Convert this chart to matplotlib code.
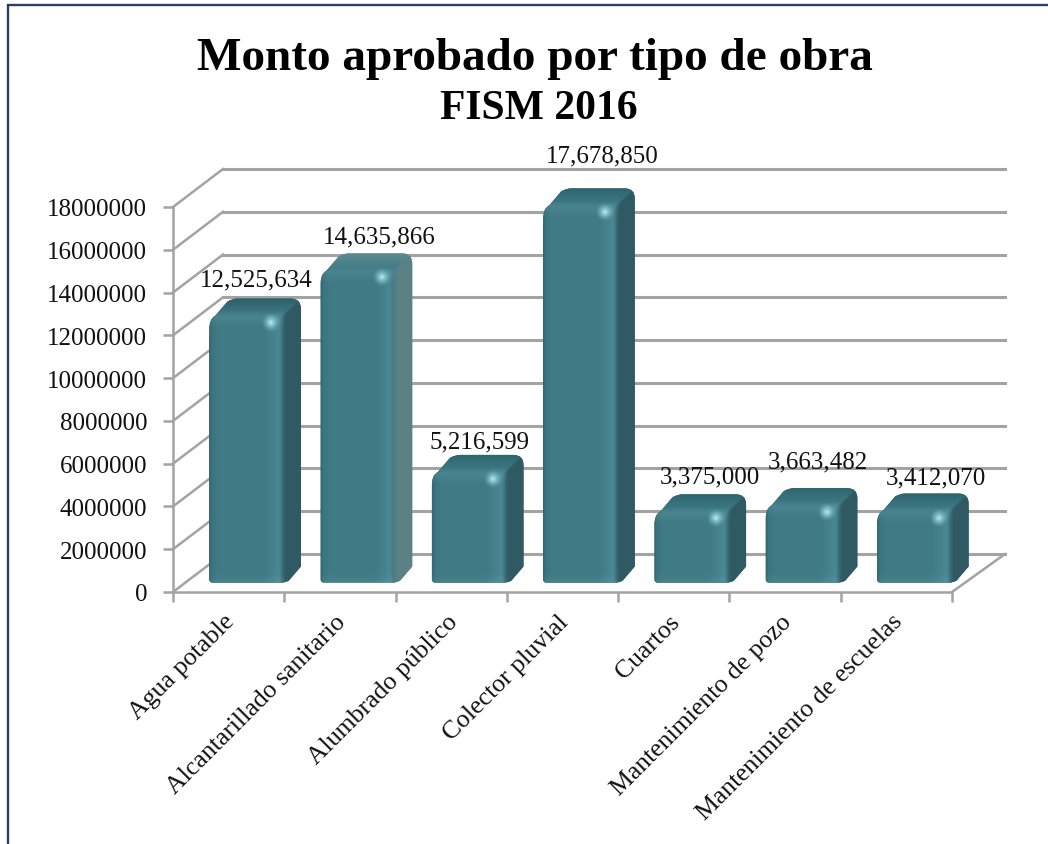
import numpy as np
import matplotlib
matplotlib.use("Agg")
import matplotlib.pyplot as plt
from matplotlib.path import Path
from matplotlib.patches import PathPatch
from matplotlib.transforms import Affine2D
from matplotlib.colors import to_rgb

categories = ["Agua potable", "Alcantarillado sanitario", "Alumbrado público",
              "Colector pluvial", "Cuartos", "Mantenimiento de pozo",
              "Mantenimiento de escuelas"]
values = [12525634, 14635866, 5216599, 17678850, 3375000, 3663482, 3412070]
value_labels = ["12,525,634", "14,635,866", "5,216,599", "17,678,850",
                "3,375,000", "3,663,482", "3,412,070"]
y_ticks = list(range(0, 18000001, 2000000))
title = "Monto aprobado por tipo de obra"
subtitle = "FISM 2016"

# label placement relative to each bar's top-centre (pixels)
label_dx = [10, 21, 10, 22, 18, 15, 21.5]
label_dy = [35, 33, 29, 49, 34, 43, 32]
side_cols = ["#2f5a63", "#5c8185", "#2f5a63", "#2f5a63", "#2f5a63", "#2f5a63", "#2f5a63"]
top_cols = ["#2d5f69", "#5f8b92", "#2e666f", "#2e666f", "#2e666f", "#2e666f", "#2e666f"]

W, H = 1048, 845
plt.rcParams["font.family"] = "Liberation Serif"
GRID = "#a3a3a3"
fig = plt.figure(figsize=(W / 100, H / 100), dpi=100, facecolor="white")


def rect(l, t, r, b):
    return [l / W, 1 - b / H, (r - l) / W, (b - t) / H]


ax = fig.add_axes(rect(173, 208, 952, 593))
ax.set_xlim(0, len(categories))
ax.set_ylim(0, 18000000)
ax.patch.set_visible(False)
for s in ("top", "right"):
    ax.spines[s].set_visible(False)
for s in ("left", "bottom"):
    ax.spines[s].set_color(GRID)
    ax.spines[s].set_linewidth(1.8)
ax.set_yticks(y_ticks)
ax.set_yticklabels([str(v) for v in y_ticks], fontsize=18, color="#111111")
ax.set_xticks(range(len(categories) + 1))
ax.set_xticklabels([])
ax.set_xticks(np.arange(len(categories)) + 0.5, minor=True)
ax.set_xticklabels(categories, minor=True, rotation=45, ha="right",
                   rotation_mode="anchor", fontsize=18.5, color="#111111")
ax.tick_params(axis="both", which="major", color=GRID, width=1.8, length=7)
ax.tick_params(axis="y", which="major", pad=11.5)
ax.tick_params(axis="x", which="minor", length=0, pad=13)
for lab in ax.get_xticklabels(minor=True):
    lab.set_transform(lab.get_transform() + Affine2D().translate(-5, 0))

DX_L, DX_R, DY = 50, 53, 38
xmax = len(categories)
for v in y_ticks:
    p0 = ax.transData.transform((0, v))
    p2 = ax.transData.transform((xmax, v))
    ax.plot([p0[0] + DX_L, p2[0] + DX_R], [p0[1] + DY, p2[1] + DY], color=GRID,
            lw=2.2, transform=None, clip_on=False, zorder=1)
    ax.plot([p0[0], p0[0] + DX_L], [p0[1], p0[1] + DY], color=GRID, lw=1.8,
            transform=None, clip_on=False, zorder=1)
p0 = ax.transData.transform((xmax, 0))
ax.plot([p0[0], p0[0] + DX_R], [p0[1], p0[1] + DY], color=GRID, lw=1.8,
        transform=None, clip_on=False, zorder=1)

# overlay in pixel coordinates for the shaded 3D bodies
ov = fig.add_axes([0, 0, 1, 1], zorder=5)
ov.set_xlim(0, W)
ov.set_ylim(H, 0)
ov.axis("off")
ov.patch.set_visible(False)


def to_ov(x, y):
    return ov.transData.inverted().transform(ax.transData.transform((x, y)))


# frame: top edge runs off to the right, left edge runs off the bottom
ov.plot([W, 8, 8], [6, 6, H], color="#2c3d6b", lw=1.7,
        solid_joinstyle="miter", clip_on=False)


def smooth(a, b, x):
    t = np.clip((x - a) / (b - a), 0, 1)
    return t * t * (3 - 2 * t)


OFF_X, OFF_Y = 18, 9.5      # bar front plane relative to the axis plane
BW = 0.67
BD_X, BD_Y = 17, 16
bars = ax.bar(np.arange(len(categories)) + 0.5, values, BW, color="#3f7a85",
              linewidth=0, zorder=2)

hc = np.array([to_rgb(c) for c in ["#33666f", "#3c757f", "#3f7a85", "#3f7a85",
                                   "#44838e", "#4a8894", "#3d727d"]])
hx = np.array([0, .04, .12, .72, .86, .93, 1])

for i, (b, v) in enumerate(zip(bars, values)):
    b.set_transform(ax.transData + Affine2D().translate(OFF_X, -OFF_Y))
    xc = i + 0.5
    l = to_ov(xc - BW / 2, 0)[0] + OFF_X
    r = to_ov(xc + BW / 2, 0)[0] + OFF_X
    bot = to_ov(0, 0)[1] - OFF_Y
    top = to_ov(0, v)[1] - OFF_Y
    dx, dy = BD_X, BD_Y
    ytop = top - dy
    xr = r + dx

    sil = Path([(l + 3, bot), (r - 2, bot), (r + 2, bot), (r + 5, bot - 2),
                (xr, bot - dy), (xr, ytop + 10), (xr, ytop), (xr - 10, ytop),
                (l + 28, ytop), (l + 23, ytop), (l + 18, ytop + 3),
                (l + 6, top + 1), (l, top + 4), (l, top + 14), (l, bot - 3),
                (l, bot), (l + 3, bot)],
               [Path.MOVETO, Path.LINETO, Path.CURVE3, Path.CURVE3,
                Path.LINETO, Path.LINETO, Path.CURVE3, Path.CURVE3,
                Path.LINETO, Path.CURVE3, Path.CURVE3,
                Path.LINETO, Path.CURVE3, Path.CURVE3,
                Path.LINETO, Path.CURVE3, Path.CURVE3])
    sp = PathPatch(sil, fc=side_cols[i], ec="none", zorder=3)
    ov.add_patch(sp)
    b.set_clip_path(sil, ov.transData)

    # per-pixel shading of the whole body, clipped to its silhouette
    x0, x1 = int(l) - 1, int(xr) + 2
    y0, y1 = int(ytop) - 1, int(bot) + 2
    X, Y = np.meshgrid(np.arange(x0, x1) + .5, np.arange(y0, y1) + .5)
    xn = (X - l) / (r - l)
    front = np.stack([np.interp(xn, hx, hc[:, k]) for k in range(3)], axis=-1)
    tb = np.clip(1 - (Y - top) / 13, 0, 1)
    bb = np.clip(1 - (bot - Y) / 9, 0, 1)
    front = front + (tb * 0.05)[..., None] + (bb * 0.035)[..., None]
    a = (X - r) / dx
    c = (top - Y) / dy
    col_top = np.array(to_rgb(top_cols[i]))
    mix = np.clip(c, 0, 1)[..., None]
    ctop = np.array(to_rgb("#3f7a85")) * (1 - mix) + col_top * mix
    cside = np.array(to_rgb(side_cols[i])) * np.ones_like(front)
    # the bottom of the side face narrows along the depth diagonal
    w_side = smooth(-0.25, 0.18, a)
    w_top = smooth(-0.30, 0.25, c)
    pick = smooth(-0.12, 0.12, c - a)[..., None]
    back = cside * (1 - pick) + ctop * pick
    w = np.maximum(w_side, w_top)[..., None]
    img = np.clip(front * (1 - w) + back * w, 0, 1)
    im = ov.imshow(img, extent=(x0, x1, y1, y0), aspect="auto", zorder=3.1,
                   interpolation="nearest")
    im.set_clip_path(sp)

    # highlight
    gx, gy = np.meshgrid(np.linspace(-1, 1, 40), np.linspace(-1, 1, 40))
    alpha = np.clip(1 - np.hypot(gx, gy), 0, 1) ** 1.5
    rgba = np.zeros((40, 40, 4))
    rgba[..., :3] = to_rgb("#b8f2f6")
    rgba[..., 3] = alpha
    sx, sy = r - 13, top + 8
    ov.imshow(rgba, extent=(sx - 10, sx + 10, sy + 10, sy - 10), aspect="auto",
              zorder=3.3, interpolation="bilinear")

    ov.text((l + r) / 2 + label_dx[i], top - label_dy[i], value_labels[i],
            ha="center", va="center", fontsize=18, color="#111111", zorder=6)

ov.set_xlim(0, W)
ov.set_ylim(H, 0)
ov.text(535, 59, title, ha="center", va="center", fontsize=34, fontweight="bold",
        color="#000000")
ov.text(539, 109, subtitle, ha="center", va="center", fontsize=30, fontweight="bold",
        color="#000000")

fig.savefig("out.png", dpi=100, facecolor="white")
